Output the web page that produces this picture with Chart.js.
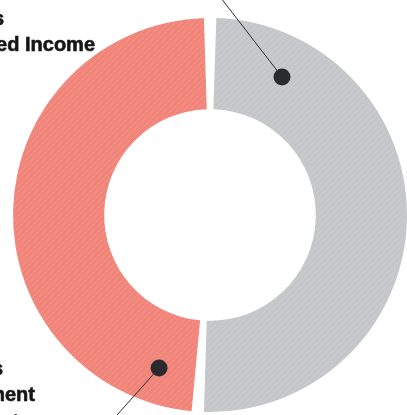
<!DOCTYPE html>
<html>
<head>
<meta charset="utf-8">
<script src="https://cdn.jsdelivr.net/npm/chart.js@4"></script>
<style>
  html, body { margin: 0; padding: 0; background: #ffffff; }
  #wrap { position: relative; width: 407px; height: 415px; overflow: hidden; }
</style>
</head>
<body>
<div id="wrap"><canvas id="chart" width="407" height="415"></canvas></div>
<script>
// ----------------------------
// Data
// ----------------------------
var categories = ['Bonds', 'Stocks'];
var shares = [51, 49];
var sliceColors = ['#c4c6c9', '#f2857a'];

// side labels (partly cut by the left edge of the picture)
var topLabel = ['Bonds', 'Fixed Income'];
var bottomLabel = ['Stocks', 'Equity Investment', 'Real Estate'];

// ----------------------------
// Striped fill, like the printed original
// ----------------------------
function stripes(base) {
    var c = document.createElement('canvas');
    c.width = 6; c.height = 6;
    var g = c.getContext('2d');
    g.fillStyle = base;
    g.fillRect(0, 0, 6, 6);
    g.strokeStyle = 'rgba(255,255,255,0.13)';
    g.lineWidth = 1;
    g.beginPath();
    g.moveTo(0, 6); g.lineTo(6, 0);
    g.moveTo(-3, 3); g.lineTo(3, -3);
    g.moveTo(3, 9); g.lineTo(9, 3);
    g.stroke();
    return document.getElementById('chart').getContext('2d').createPattern(c, 'repeat');
}

// ----------------------------
// Callouts: dot inside a slice plus a leader line running off the picture
// ----------------------------
var callouts = [
    { slice: 0, along: 0.15, depth: 0.58, dx: -75, dy: -97 },
    { slice: 1, along: 0.084, depth: 0.64, dx: -50, dy: 56 }
];

var calloutPlugin = {
    id: 'callouts',
    afterDatasetsDraw: function (chart) {
        var ctx = chart.ctx;
        var meta = chart.getDatasetMeta(0);
        callouts.forEach(function (c) {
            var arc = meta.data[c.slice];
            var a = arc.startAngle + c.along * (arc.endAngle - arc.startAngle);
            var r = arc.innerRadius + c.depth * (arc.outerRadius - arc.innerRadius);
            var x = arc.x + Math.cos(a) * r;
            var y = arc.y + Math.sin(a) * r;
            ctx.save();
            ctx.strokeStyle = '#2b2b2f';
            ctx.lineWidth = 1;
            ctx.beginPath();
            ctx.moveTo(x, y);
            ctx.lineTo(x + c.dx, y + c.dy);
            ctx.stroke();
            ctx.fillStyle = '#2b2b2f';
            ctx.beginPath();
            ctx.arc(x, y, 8.5, 0, Math.PI * 2);
            ctx.fill();
            ctx.restore();
        });
    },
    afterDraw: function (chart) {
        var ctx = chart.ctx;
        ctx.save();
        ctx.fillStyle = '#161616';
        ctx.strokeStyle = '#161616';
        ctx.lineWidth = 0.6;
        ctx.font = 'bold 20px "Liberation Sans", Arial, sans-serif';
        ctx.textAlign = 'right';
        ctx.textBaseline = 'alphabetic';
        var rows = [
            [topLabel[0], 4, 25], [topLabel[1], 95, 51],
            [bottomLabel[0], 3, 375], [bottomLabel[1], 35, 401], [bottomLabel[2], 30, 428]
        ];
        rows.forEach(function (r) {
            ctx.fillText(r[0], r[1], r[2]);
            ctx.strokeText(r[0], r[1], r[2]);
        });
        ctx.restore();
    }
};

// ----------------------------
// Chart
// ----------------------------
new Chart(document.getElementById('chart'), {
    type: 'doughnut',
    data: {
        labels: categories,
        datasets: [{
            data: shares,
            backgroundColor: sliceColors.map(stripes),
            borderWidth: 0,
            spacing: 6
        }]
    },
    options: {
        responsive: false,
        animation: false,
        radius: 194,
        cutout: '53%',
        rotation: 0,
        layout: { padding: { left: 13, right: 0, top: 18, bottom: 3 } },
        plugins: {
            legend: { display: false },
            tooltip: { enabled: false }
        }
    },
    plugins: [calloutPlugin]
});
</script>
</body>
</html>
